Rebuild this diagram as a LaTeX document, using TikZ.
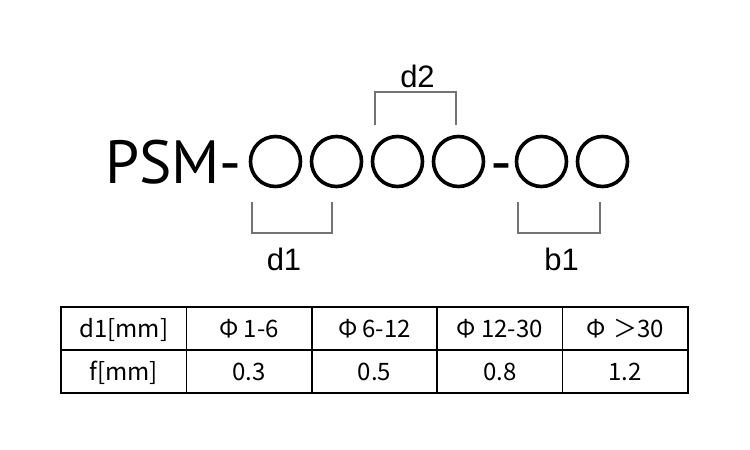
\documentclass[tikz,border=0pt]{standalone}
\usepackage{fontspec}
\setmainfont{Noto Sans CJK JP}
\newfontfamily\codefont{PT Sans}
\newfontfamily\labelfont{Liberation Sans}
\usetikzlibrary{positioning}

\begin{document}
\begin{tikzpicture}[x=1pt,y=-1pt,node distance=61pt,on grid,
        digit/.style={circle,draw,line width=3.6pt,minimum size=50pt,inner sep=0pt},
        bracket/.style={draw=black!55,line width=1.2pt},
        tag/.style={anchor=base,inner sep=0pt,font=\labelfont\fontsize{31}{31}\selectfont},
        cell/.style={draw,line width=1.5pt,minimum width=125.4pt,minimum height=43pt,
            inner sep=0pt,text height=18pt,text depth=0pt,font=\fontsize{24}{24}\selectfont}]
    \useasboundingbox (0,0) rectangle (750,450);
    \tikzstyle{code}=[anchor=base,inner sep=0pt,font=\codefont\fontsize{61}{61}\selectfont]

    % part number
    \node[code,anchor=base west] (psm) at (105,183) {PSM-};
    \node[digit] (o1) at (275.5,161.5) {};
    \node[digit] (o2) [right=of o1] {};
    \node[digit] (o3) [right=of o2] {};
    \node[digit] (o4) [right=of o3] {};
    \node[code]  (dash) at (501.5,183) {-};
    \node[digit] (o5) [right=83pt of o4] {};
    \node[digit] (o6) [right=of o5] {};

    % brackets
    \draw[bracket] (252,202) |- (332,233) -- (332,202);
    \draw[bracket] (375,125) |- (456,92) -- (456,125);
    \draw[bracket] (518,202) |- (600,233) -- (600,202);
    \node[tag] (d1) at (284,270) {d1};
    \node[tag] (d2) at (417.5,87) {d2};
    \node[tag] (b1) at (561.5,270) {b1};

    % table
    \foreach \head/\val [count=\i] in {d1[mm]/f[mm],Φ\hspace{5pt}1-6/0.3,Φ\hspace{5pt}6-12/0.5,
            Φ\hspace{5pt}12-30/0.8,Φ\hspace{7pt}＞30/1.2}{
        \node[cell] (h\i) at ({61+125.4*(\i-0.5)},328.5) {\head};
        \node[cell] (v\i) at ({61+125.4*(\i-0.5)},371.5) {\val};
    }
\end{tikzpicture}
\end{document}
